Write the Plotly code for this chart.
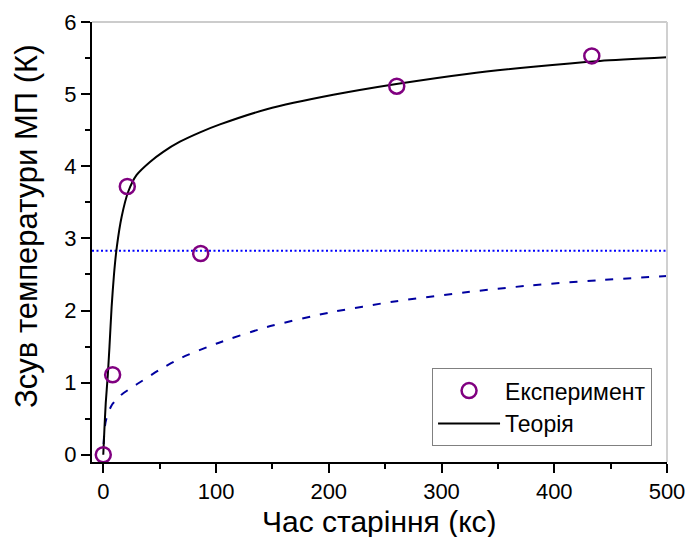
import plotly.graph_objects as go

# Experimental points: ageing time (ks) vs shift of the phase-transition temperature (K)
exp_t = [0, 8.3, 21.3, 86.4, 260.3, 433.3]
exp_dT = [0, 1.11, 3.72, 2.79, 5.11, 5.53]

# Theoretical curve (solid)
theory_t = [0, 1, 2.2, 4, 5.5, 7.4, 9.5, 12, 16.3, 22.2, 29.6, 41.4, 53.2, 68,
            85.8, 103.5, 145, 204, 260, 322.5, 381.5, 440.7, 500]
theory_dT = [0, 0.35, 0.72, 1.1, 1.5, 2.05, 2.5, 2.88, 3.30, 3.65, 3.88, 4.06, 4.20,
             4.34, 4.47, 4.58, 4.79, 4.99, 5.14, 5.28, 5.38, 5.46, 5.51]

# Second model curve (dashed)
model2_t = [0.3, 1, 2, 4, 8, 15, 25, 35, 50, 70, 100, 145, 200, 260, 320, 380, 440, 500]
model2_dT = [0.15, 0.33, 0.45, 0.57, 0.70, 0.82, 0.93, 1.03, 1.18, 1.35, 1.54,
             1.77, 1.97, 2.13, 2.25, 2.35, 2.42, 2.48]

# Saturation level (dotted)
level_t = [-10, 500]
level_dT = [2.83, 2.83]

X_TITLE = "Час старіння (кс)"
Y_TITLE = "Зсув температури МП (К)"

FONT = "Arial, Liberation Sans, sans-serif"

fig = go.Figure()

fig.add_trace(go.Scatter(
    x=level_t, y=level_dT, mode="lines", showlegend=False,
    line=dict(color="#0000FF", width=2, dash="2px,2.5px"),
))
fig.add_trace(go.Scatter(
    x=model2_t, y=model2_dT, mode="lines", showlegend=False,
    line=dict(color="#0000A0", width=2, dash="8px,10px", shape="spline", smoothing=0.6),
))
fig.add_trace(go.Scatter(
    x=theory_t, y=theory_dT, mode="lines", name="Теорія",
    line=dict(color="black", width=2, shape="spline", smoothing=0.6),
))
fig.add_trace(go.Scatter(
    x=exp_t, y=exp_dT, mode="markers", name="Експеримент",
    marker=dict(symbol="circle-open", size=15, color="#800080", line=dict(width=2.5)),
))

axis_common = dict(
    showgrid=False, zeroline=False, automargin=False,
    showline=True, linecolor="black", linewidth=2,
    ticks="outside", ticklen=9, tickwidth=2, tickcolor="black",
    tickfont=dict(family=FONT, size=22, color="black"),
)

fig.update_xaxes(
    range=[-10, 500], tick0=0, dtick=100,
    minor=dict(ticks="outside", ticklen=5, tickwidth=1.5, tickcolor="black", dtick=50, tick0=0),
    **axis_common,
)
fig.update_yaxes(
    range=[-0.1, 6], tick0=0, dtick=1,
    minor=dict(ticks="outside", ticklen=5, tickwidth=1.5, tickcolor="black", dtick=0.5, tick0=0),
    **axis_common,
)

# Axis titles
fig.add_annotation(text=X_TITLE, xref="paper", yref="paper", x=0.5, y=-0.135,
                   xanchor="center", yanchor="middle", showarrow=False,
                   font=dict(family=FONT, size=30, color="black"))
fig.add_annotation(text=Y_TITLE, xref="paper", yref="paper", x=-0.1143, y=0.535,
                   xanchor="center", yanchor="middle", showarrow=False, textangle=-90,
                   font=dict(family=FONT, size=31, color="black"))

# Light frame on the top and right sides
fig.add_shape(type="line", xref="paper", yref="paper", x0=0, x1=1, y0=1, y1=1,
              line=dict(color="#BBBBBB", width=1.5))
fig.add_shape(type="line", xref="paper", yref="paper", x0=1, x1=1, y0=0, y1=1,
              line=dict(color="#D0D0D0", width=2))

fig.update_layout(
    width=690, height=537,
    margin=dict(l=92, r=23, t=22, b=75),
    paper_bgcolor="white", plot_bgcolor="white",
    font=dict(family=FONT, color="black"),
    legend=dict(
        x=0.974, y=0.036, xanchor="right", yanchor="bottom",
        bgcolor="white", bordercolor="#808080", borderwidth=1,
        font=dict(family=FONT, size=23, color="black"),
        traceorder="reversed", itemwidth=62, tracegroupgap=0,
    ),
)

fig.write_html("out.html")
